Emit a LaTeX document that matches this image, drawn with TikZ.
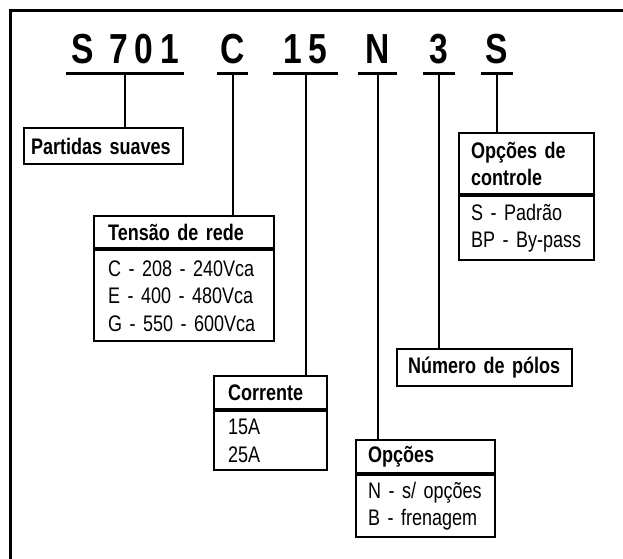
\documentclass[tikz,border=0pt]{standalone}
\usepackage{fontspec}
\setmainfont{Liberation Sans}[FakeStretch=0.8]
\newfontfamily\codefont{Liberation Sans}[FakeStretch=0.8,LetterSpace=16]
\usetikzlibrary{positioning}

\tikzset{
	code/.style={font=\codefont\bfseries\fontsize{42}{42}\selectfont, inner sep=0pt, text depth=10pt, anchor=base},
	head/.style={draw, line width=2.2pt, anchor=north west, align=left, inner ysep=0pt, font=\bfseries\fontsize{22.5}{27}\selectfont},
	body/.style={draw, line width=2.2pt, anchor=north west, align=left, inner ysep=0pt, font=\fontsize{22.5}{27.5}\selectfont},
	stem/.style={line width=2pt},
	bar/.style={line width=3pt}
}

\begin{document}
\begin{tikzpicture}[x=1pt,y=-1pt]
	\useasboundingbox (0,0) rectangle (623,558);
	\draw[line width=3pt] (10,560) -- (10,10) -- (625,10);

	% code letters
	\node[code,minimum width=118pt] (s701) at (125,63) {S 701};
	\node[code,minimum width=31pt] (cc) at (232.5,63) {C};
	\node[code,minimum width=65pt] (c15) at (305.5,63) {15};
	\node[code,minimum width=39pt] (cn) at (377.5,63) {N};
	\node[code,minimum width=32pt] (c3) at (439,63) {3};
	\node[code,minimum width=32pt] (cs) at (497,63) {S};
	\foreach \c in {s701,cc,c15,cn,c3,cs}
		\draw[bar] (\c.south west) -- (\c.south east);

	% boxes
	\node[head,inner xsep=7pt,text width=145pt,minimum height=36pt] (partidas) at (23,127) {Partidas suaves};

	\node[head,inner xsep=12pt,text width=111pt,minimum height=61pt] (controlehead) at (458,132) {Opções de\\controle};
	\node[body,inner xsep=12pt,text width=111pt,minimum height=64pt] (controlebody) at (controlehead.south west) {S - Padrão\\\mbox{BP - By-pass}};

	\node[head,inner xsep=14pt,text width=152pt,minimum height=32pt] (tensaohead) at (93,215) {Tensão de rede};
	\node[body,inner xsep=14pt,text width=152pt,minimum height=91pt] (tensaobody) at (tensaohead.south west) {C - 208 - 240Vca\\E - 400 - 480Vca\\G - 550 - 600Vca};

	\node[head,inner xsep=11pt,text width=153pt,minimum height=37pt] (polos) at (396,348) {Número de pólos};

	\node[head,inner xsep=14pt,text width=85pt,minimum height=33pt] (correntehead) at (213,375) {Corrente};
	\node[body,inner xsep=14pt,text width=85pt,minimum height=59pt] (correntebody) at (correntehead.south west) {15A\\25A};

	\node[head,inner xsep=12pt,text width=115pt,minimum height=33pt] (opcoeshead) at (355,439) {Opções};
	\node[body,inner xsep=12pt,text width=115pt,minimum height=62pt] (opcoesbody) at (opcoeshead.south west) {N - s/ opções\\B - frenagem};

	% stems
	\draw[stem] (s701.south) -- (s701.south |- partidas.north);
	\draw[stem] (cc.south) -- (cc.south |- tensaohead.north);
	\draw[stem] (c15.south) -- (c15.south |- correntehead.north);
	\draw[stem] (cn.south) -- (cn.south |- opcoeshead.north);
	\draw[stem] (c3.south) -- (c3.south |- polos.north);
	\draw[stem] (cs.south) -- (cs.south |- controlehead.north);
\end{tikzpicture}
\end{document}
